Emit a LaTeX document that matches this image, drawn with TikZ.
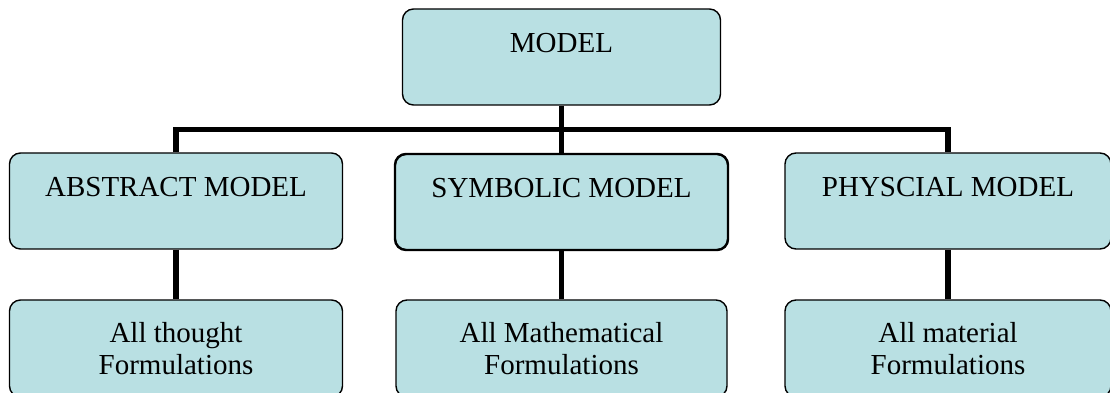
\documentclass[tikz,border=0pt]{standalone}
\usepackage{fontspec}
\setmainfont{Liberation Serif}
\usepackage{xcolor}
\definecolor{boxfill}{RGB}{185,224,227}

\begin{document}
\begin{tikzpicture}[
  box/.style={rectangle,draw,rounded corners=0.22cm,fill=boxfill,line width=0.8pt,
              inner sep=0pt,text centered,font=\fontsize{16.5}{18.5}\selectfont},
  head/.style={box,text height=0.87cm,text depth=1.05cm},
  leaf/.style={box,minimum height=1.94cm,align=center},
  link/.style={line width=3.4pt}
]
\useasboundingbox (0,0) rectangle (22.2,-7.86);
\clip (0,0) rectangle (22.2,-7.86);

\node[head,minimum width=6.36cm] (model) at (11.23,-1.14) {MODEL};
\node[head,minimum width=6.66cm] (abstract) at ( 3.52,-4.02) {ABSTRACT MODEL};
\node[head,minimum width=6.66cm,line width=1.4pt] (symbolic) at (11.23,-4.04) {SYMBOLIC MODEL};
\node[head,minimum width=6.52cm] (physcial) at (18.96,-4.02) {PHYSCIAL MODEL};
\node[leaf,minimum width=6.66cm] (thought)  at ( 3.52,-6.97) {All thought\\Formulations};
\node[leaf,minimum width=6.62cm] (math)     at (11.23,-6.97) {All Mathematical\\Formulations};
\node[leaf,minimum width=6.52cm] (material) at (18.96,-6.97) {All material\\Formulations};

\coordinate (bar) at (11.23,-2.59);
\draw[link] (model) -- (symbolic);
\draw[link] (abstract.north) |- (bar) -| (physcial.north);
\draw[link] (abstract) -- (thought);
\draw[link] (symbolic) -- (math);
\draw[link] (physcial) -- (material);
\end{tikzpicture}
\end{document}
